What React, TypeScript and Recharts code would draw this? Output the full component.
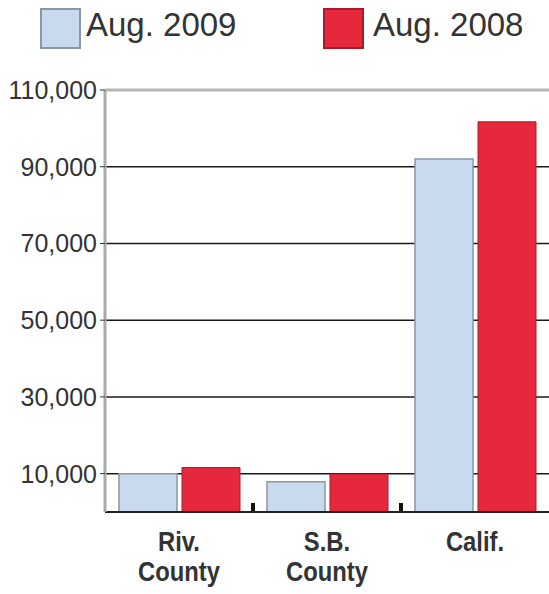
import React from 'react';
import { BarChart, Bar, XAxis, YAxis, CartesianGrid, Legend, ReferenceLine } from 'recharts';

const categories = ['Riv. County', 'S.B. County', 'Calif.'];
const categoryLines = [['Riv.', 'County'], ['S.B.', 'County'], ['Calif.']];
const aug2009 = [10000, 7900, 92000];
const aug2008 = [11600, 9900, 101700];
const yTicks = [10000, 30000, 50000, 70000, 90000, 110000];

const BLUE = '#c9daef';
const BLUE_EDGE = '#8b97a6';
const RED = '#e5283c';
const RED_EDGE = '#a61c2c';
const TEXT = '#333';
const FONT = '"Liberation Sans", Arial, sans-serif';

const data = categories.map((name, i) => ({
  name,
  aug2009: aug2009[i],
  aug2008: aug2008[i],
}));

const HALF_BAND = 74;

// category label, squeezed horizontally, plus a small separator notch on the baseline
const CategoryTick = (props: any) => {
  const { x, y, payload, index } = props;
  const lines = categoryLines[index] || [payload.value];
  return (
    <g>
      {index < categories.length - 1 && (
        <rect x={x + HALF_BAND - 2} y={y - 17} width={4} height={8} fill="#111" />
      )}
      <g transform={`translate(${x}, ${y}) scale(0.85, 1)`}>
        <text x={0} y={0} textAnchor="middle" fill={TEXT} fontFamily={FONT} fontWeight="bold" fontSize={28}>
          {lines.map((line: string, i: number) => (
            <tspan key={i} x={0} dy={i === 0 ? 31 : 30}>
              {line}
            </tspan>
          ))}
        </text>
      </g>
    </g>
  );
};

const LegendBox = () => (
  <div style={{ position: 'relative', height: 90, fontFamily: FONT, fontSize: 33, color: TEXT }}>
    <div style={{ position: 'absolute', left: 40, top: 8, width: 37, height: 37, background: BLUE, border: `2px solid ${BLUE_EDGE}` }} />
    <div style={{ position: 'absolute', left: 86, top: 5, lineHeight: '40px' }}>Aug. 2009</div>
    <div style={{ position: 'absolute', left: 323, top: 8, width: 37, height: 37, background: RED, border: `2px solid ${RED_EDGE}` }} />
    <div style={{ position: 'absolute', left: 373, top: 5, lineHeight: '40px' }}>Aug. 2008</div>
  </div>
);

export default function App() {
  return (
    <div style={{ position: 'absolute', left: 0, top: 0, background: '#fff' }}>
      <BarChart
        width={549}
        height={594}
        data={data}
        margin={{ top: 0, right: 0, bottom: 0, left: 0 }}
        barGap={5}
        barSize={58}
      >
        <Legend verticalAlign="top" align="left" content={LegendBox} wrapperStyle={{ top: 0, left: 0, width: 549 }} />
        <CartesianGrid vertical={false} stroke="#1a1a1a" strokeWidth={1.5} />
        <ReferenceLine y={110000} stroke="#b5b5b5" strokeWidth={3} />
        <XAxis
          dataKey="name"
          height={82}
          axisLine={{ stroke: '#222', strokeWidth: 2 }}
          tickLine={false}
          tick={<CategoryTick />}
          interval={0}
        />
        <YAxis
          width={105}
          domain={[0, 110000]}
          ticks={yTicks}
          interval={0}
          axisLine={{ stroke: '#aaa', strokeWidth: 3 }}
          tickLine={{ stroke: '#333' }}
          tickSize={5}
          tickMargin={3}
          tickFormatter={(v: number) => v.toLocaleString('en-US')}
          tick={{ fill: TEXT, fontFamily: FONT, fontSize: 25 }}
        />
        <Bar dataKey="aug2009" fill={BLUE} stroke={BLUE_EDGE} strokeWidth={1.5} isAnimationActive={false} />
        <Bar dataKey="aug2008" fill={RED} stroke={RED_EDGE} strokeWidth={1} isAnimationActive={false} />
      </BarChart>
    </div>
  );
}
